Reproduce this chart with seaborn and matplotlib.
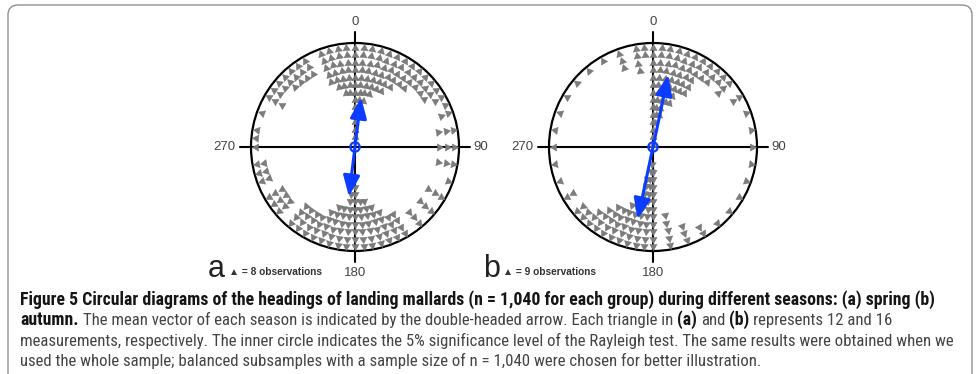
import numpy as np
import pandas as pd
import matplotlib
matplotlib.use("Agg")
import matplotlib.pyplot as plt
import seaborn as sns
from matplotlib import font_manager as fm
from matplotlib.patches import Circle, FancyBboxPatch

sns.set_theme(style="white")
plt.rcParams["font.family"] = ["Liberation Sans", "DejaVu Sans"]

# Heading bins (degrees clockwise from north) and triangles per bin
bins_deg = list(range(0, 360, 5))
spring_counts = [13, 8, 8, 7, 6, 6, 5, 4, 4, 3, 3, 3, 2, 1, 2, 0, 3, 0,
                 3, 0, 3, 0, 1, 0, 3, 0, 3, 0, 3, 0, 4, 4, 5, 6, 7, 7,
                 9, 8, 6, 6, 5, 4, 4, 4, 4, 0, 3, 3, 3, 0, 2, 2, 2, 0,
                 1, 1, 1, 0, 1, 0, 3, 2, 2, 3, 3, 3, 3, 0, 5, 6, 7, 7]
autumn_counts = [14, 11, 10, 8, 8, 6, 6, 3, 3, 2, 3, 0, 2, 0, 1, 0, 1, 0,
                 1, 0, 1, 0, 1, 0, 1, 0, 1, 0, 1, 0, 2, 0, 3, 0, 5, 0,
                 11, 12, 10, 7, 6, 5, 5, 4, 3, 2, 2, 0, 2, 0, 1, 0, 1, 0,
                 1, 0, 1, 0, 1, 0, 1, 0, 1, 0, 1, 0, 1, 0, 3, 0, 4, 2]

# Mean vectors: direction (deg) and length (fraction of circle radius)
spring_mean = (7, 0.48)
autumn_mean = (12, 0.71)

obs_per_triangle = {"a": 8, "b": 9}
axis_labels = ["0", "90", "180", "270"]

caption_lines = [
    [("Figure 5 Circular diagrams of the headings of landing mallards (n = 1,040 for each group) during different seasons: (a) spring (b)", True)],
    [("autumn.", True),
     ("The mean vector of each season is indicated by the double-headed arrow. Each triangle in", False),
     ("(a)", True), ("and", False), ("(b)", True), ("represents 12 and 16", False)],
    [("measurements, respectively. The inner circle indicates the 5% significance level of the Rayleigh test. The same results were obtained when we", False)],
    [("used the whole sample; balanced subsamples with a sample size of n = 1,040 were chosen for better illustration.", False)],
]

W, H = 980, 374
R_PX = 104
BLUE = "#0b3cff"
TRI = "#7c7c7c"

fig = plt.figure(figsize=(W / 100, H / 100), dpi=100)
fig.patch.set_facecolor("white")

# rounded frame around the figure block
frame = FancyBboxPatch((8 / 100, -12 / 100), 964 / 100, (H - 5 + 12) / 100,
                       boxstyle="round,pad=0,rounding_size=0.1",
                       transform=fig.dpi_scale_trans, fill=False,
                       edgecolor="#8f8f8f", lw=1.0)
fig.patches.append(frame)


def stack_points(bins, counts, r0=0.956, pitch=0.072):
    rows = []
    for ang, n in zip(bins, counts):
        th = np.deg2rad(ang)
        for k in range(n):
            r = r0 - k * pitch
            rows.append((r * np.sin(th), r * np.cos(th), ang))
    return pd.DataFrame(rows, columns=["x", "y", "heading"])


def panel(cx, cy, counts, mean, letter, letter_x, note_x):
    L = 1.45
    ax = fig.add_axes([(cx - L * R_PX) / W, (H - cy - L * R_PX) / H,
                       2 * L * R_PX / W, 2 * L * R_PX / H])
    ax.set_axis_off()

    ax.add_patch(Circle((0, 0), 1, fill=False, ec="black", lw=1.6, zorder=2))
    ax.plot([-1.11, 1.11], [0, 0], color="black", lw=1.5, zorder=1)
    ax.plot([0, 0], [-1.11, 1.11], color="black", lw=1.5, zorder=1)

    df = stack_points(bins_deg, counts)
    for ang, grp in df.groupby("heading"):
        sns.scatterplot(data=grp, x="x", y="y", marker=(3, 0, -ang), s=36,
                        color=TRI, edgecolor="#707070", linewidth=0.3,
                        ax=ax, legend=False, zorder=3)

    d, ln = mean
    th = np.deg2rad(d)
    tip = (ln * np.sin(th), ln * np.cos(th))
    ax.annotate("", xy=tip, xytext=(-tip[0], -tip[1]),
                arrowprops=dict(arrowstyle="<|-|>,head_length=0.9,head_width=0.36",
                                mutation_scale=14, color=BLUE, lw=2.2,
                                shrinkA=0, shrinkB=0), zorder=5)
    ax.add_patch(Circle((0, 0), 0.045, fill=False, ec=BLUE, lw=1.6, zorder=6))

    lab_kw = dict(fontsize=9.5, color="#444444", clip_on=False)
    ax.text(0, 1.2, axis_labels[0], ha="center", va="center", **lab_kw)
    ax.text(1.14, 0, axis_labels[1], ha="left", va="center", **lab_kw)
    ax.text(0, -1.21, axis_labels[2], ha="center", va="center", **lab_kw)
    ax.text(-1.15, 0, axis_labels[3], ha="right", va="center", **lab_kw)

    ax.text(letter_x, -1.25, letter, fontsize=22, color="#222222",
            ha="left", va="baseline", clip_on=False)
    ax.text(note_x, -1.23, "\u25b2 = %d observations" % obs_per_triangle[letter],
            fontsize=7.3, fontweight="bold", color="#333333", ha="left",
            va="baseline", clip_on=False,
            family=["Liberation Sans", "DejaVu Sans"])

    ax.set_xlim(-L, L)
    ax.set_ylim(-L, L)
    ax.set_aspect("equal")
    return ax


panel(355, 147, spring_counts, spring_mean, "a", -1.42, -1.21)
panel(653, 147, autumn_counts, autumn_mean, "b", -1.63, -1.44)


# caption face: a narrow / condensed sans when one is installed
def _is_condensed(f):
    st = f.stretch
    if isinstance(st, (int, float)):
        return st < 500
    return "condensed" in str(st) or "narrow" in str(st)


entries = fm.fontManager.ttflist
names = {f.name for f in entries}
cap_family, cap_stretch = "Liberation Sans", "normal"
for nm in ["Liberation Sans Narrow", "Roboto Condensed", "Open Sans Condensed",
           "Noto Sans Condensed", "DejaVu Sans Condensed"]:
    if nm in names:
        cap_family, cap_stretch = nm, "normal"
        break
else:
    for nm in ["Noto Sans", "Open Sans", "Roboto", "DejaVu Sans"]:
        if any(f.name == nm and _is_condensed(f) for f in entries):
            cap_family, cap_stretch = nm, "condensed"
            break

renderer = fig.canvas.get_renderer()


def cap_text(x, y, s, fs, bold):
    return fig.text(x / W, 1 - y / H, s, fontsize=fs,
                    fontweight="bold" if bold else "normal",
                    color="#151515" if bold else "#444444",
                    family=cap_family, fontstretch=cap_stretch,
                    ha="left", va="baseline")


def width_of(s, fs, bold):
    t = cap_text(0, 0, s, fs, bold)
    w = t.get_window_extent(renderer).width
    t.remove()
    return w


# bold and regular sizes fitted to the line widths of the caption block
fs_bold = 10.0 * 917.0 / width_of(caption_lines[0][0][0], 10.0, True)
fs_reg = 10.0 * 928.0 / width_of(caption_lines[2][0][0], 10.0, False)
sizes = {True: fs_bold, False: fs_reg}
space = {b: width_of("a a", sizes[b], b) - width_of("aa", sizes[b], b)
         for b in (True, False)}

baselines = [305, 325, 346, 366]
for segs, yb in zip(caption_lines, baselines):
    x = 20.0
    for s, bold in segs:
        t = cap_text(x, yb, s, sizes[bold], bold)
        x += t.get_window_extent(renderer).width + space[bold]

fig.savefig("out.png", dpi=100, facecolor="white")
